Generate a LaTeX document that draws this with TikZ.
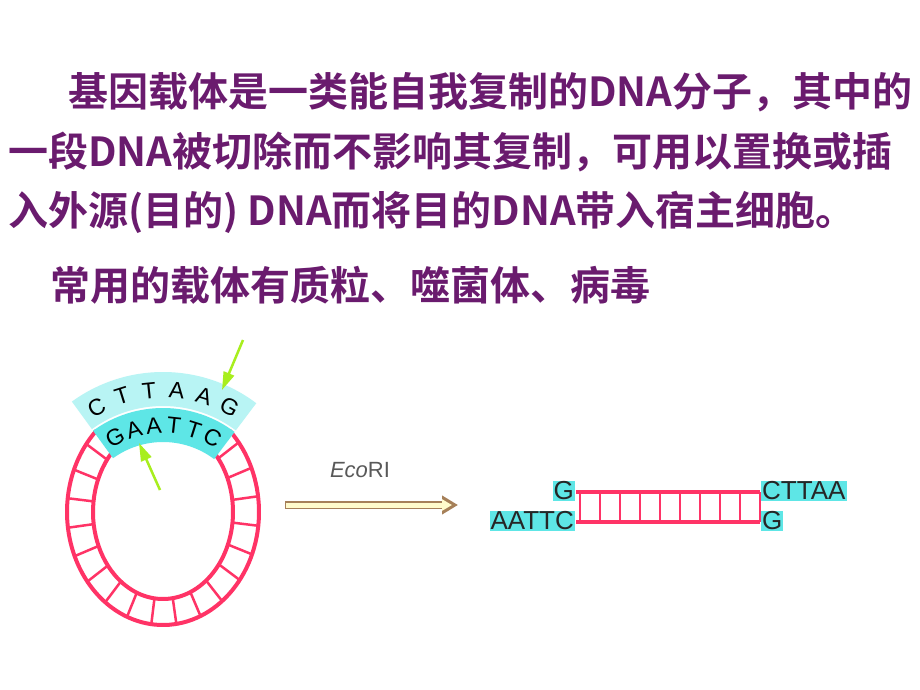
\documentclass[tikz,border=0pt]{standalone}
\usepackage{fontspec}
\setmainfont{Liberation Sans}
\newfontfamily\cjk{Noto Sans CJK SC}[BoldFont={Noto Sans CJK SC Bold}]
\usetikzlibrary{arrows.meta}
\definecolor{txt}{HTML}{6A1B6E}
\definecolor{dna}{HTML}{FF3366}
\definecolor{cyA}{HTML}{B8F4F4}
\definecolor{cyB}{HTML}{5EE6E6}
\definecolor{lime}{HTML}{A8EE1E}
\tikzset{
 ln/.style={anchor=west,text=txt,font=\cjk\bfseries\fontsize{40}{44}\selectfont,inner sep=0},
 strand/.style={draw=dna,line width=4pt},
 rung/.style={draw=dna,line width=2.5pt},
 base/.style={font=\fontsize{26}{28}\selectfont,fill=cyB,inner sep=1pt,text=black!85},
 cut/.style={draw=lime,line width=2.5pt,-{Triangle[length=18pt,width=11pt]}},
 letter/.style={font=\fontsize{23}{25}\selectfont,inner sep=0},
}
\begin{document}
\begin{tikzpicture}[x=1pt,y=-1pt]
\useasboundingbox (0,0) rectangle (920,690);
\fill[white] (0,0) rectangle (920,690);
\node[ln] (l1) at (68,92) {基因载体是一类能自我复制的DNA分子，其中的};
\node[ln] (l2) at (8,152) {一段DNA被切除而不影响其复制，可用以置换或插};
\node[ln] (l3) at (8,212) {入外源(目的) DNA而将目的DNA带入宿主细胞。};
\node[ln] (l4) at (50,285) {常用的载体有质粒、噬菌体、病毒};
% plasmid ring
\coordinate (r) at (163,512);
\draw[strand] ([shift={(-46:96 and 113)}]r) arc[start angle=-46,end angle=226,x radius=96,y radius=113];
\draw[strand] ([shift={(-46:70 and 87)}]r) arc[start angle=-46,end angle=226,x radius=70,y radius=87];
\foreach \a in {-38,-23,...,218}{
  \draw[rung] ([shift={(\a:70 and 87)}]r) -- ([shift={(\a:96 and 113)}]r);}
% bands
\coordinate (c) at (163,527);
\fill[cyA] ([shift={(-53:155)}]c) arc[start angle=-53,end angle=-126,radius=155] -- ([shift={(-126:121)}]c) arc[start angle=-126,end angle=-53,radius=121] -- cycle;
\fill[cyB] ([shift={(-53:119)}]c) arc[start angle=-53,end angle=-126,radius=119] -- ([shift={(-126:85)}]c) arc[start angle=-126,end angle=-53,radius=85] -- cycle;
\foreach \l [count=\i, evaluate=\i as \ang using -119+(\i-1)*11.6, evaluate=\i as \rot using 29-(\i-1)*11.6] in {C,T,T,A,A,G}{
  \node[letter,rotate=\rot] at ([shift={(\ang:137)}]c) {\l};}
\foreach \l [count=\i, evaluate=\i as \ang using -118+(\i-1)*11.4, evaluate=\i as \rot using 28-(\i-1)*11.4] in {G,A,A,T,T,C}{
  \node[letter,rotate=\rot] at ([shift={(\ang:102)}]c) {\l};}
\coordinate (a1s) at (243,340); \coordinate (a1e) at (222,390);
\coordinate (a2s) at (160,490); \coordinate (a2e) at (139,443);
\draw[cut] (a1s) -- (a1e);
\draw[cut] (a2s) -- (a2e);
% arrow
\coordinate (as) at (285,505); \coordinate (ae) at (458,505);
\draw[line width=8pt,draw=brown!60!gray,-{Triangle[length=16pt,width=18pt]}] (as) -- (ae);
\draw[line width=5pt,draw=orange!15!yellow!20,shorten >=3pt,-{Triangle[length=10pt,width=11pt]}] ([xshift=1pt]as) -- ([xshift=-3pt]ae);
\node[text=black!65,font=\fontsize{22}{24}\selectfont] (eco) at (360,470) {\textit{Eco}RI};
% linear
\draw[strand] (576,492) -- (760,492);
\draw[strand] (576,522) -- (760,522);
\foreach \x in {580,600,...,760}{\draw[rung] (\x,492) -- (\x,522);}
\node[base,anchor=east] (g1) at (575,491) {G};
\node[base,anchor=east] (a1) at (575,521) {AATTC};
\node[base,anchor=west] (c1) at (761,491) {CTTAA};
\node[base,anchor=west] (g2) at (761,521) {G};
\end{tikzpicture}
\end{document}
